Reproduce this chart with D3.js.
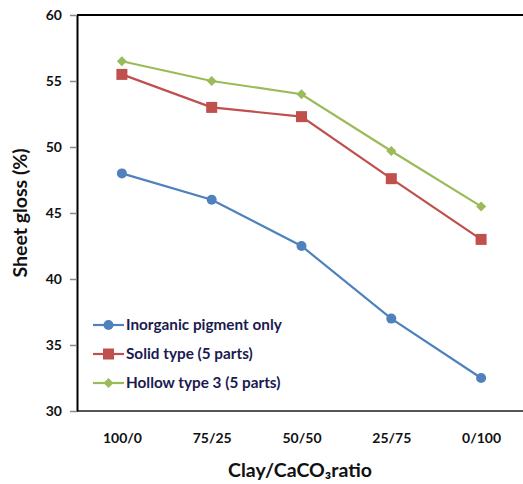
<!DOCTYPE html>
<html><head><meta charset="utf-8">
<script src="https://cdn.jsdelivr.net/npm/d3@7"></script>
<style>body{margin:0;background:#fff;}svg{display:block;font-family:Lato,"Open Sans",sans-serif;}</style>
</head><body><div id="c"></div>
<script>
const categories = ["100/0","75/25","50/50","25/75","0/100"];
const inorganic = [48, 46, 42.5, 37, 32.5];
const solid = [55.5, 53, 52.3, 47.6, 43];
const hollow = [56.5, 55, 54, 49.7, 45.5];
const seriesNames = ["Inorganic pigment only","Solid type (5 parts)","Hollow type 3 (5 parts)"];
const yTicks = [30,35,40,45,50,55,60];

const W=523,H=484;
const m={l:77,t:15,r:-3,b:73};
const svg=d3.select("#c").append("svg").attr("width",W).attr("height",H);
const x=d3.scalePoint().domain(categories).range([m.l,W-m.r]).padding(0.5);
const y=d3.scaleLinear().domain([30,60]).range([H-m.b,m.t]);

// frame
svg.append("line").attr("x1",m.l).attr("x2",W).attr("y1",m.t).attr("y2",m.t).attr("stroke","#000").attr("stroke-width",2);
svg.append("line").attr("x1",m.l).attr("x2",W).attr("y1",H-m.b).attr("y2",H-m.b).attr("stroke","#555").attr("stroke-width",2);

const ya=svg.append("g").attr("transform",`translate(${m.l},0)`)
 .call(d3.axisLeft(y).tickValues(yTicks).tickSize(7).tickPadding(8).tickSizeOuter(0));
ya.select(".domain").attr("stroke","#000").attr("stroke-width",2);
ya.selectAll(".tick line").attr("stroke","#888").attr("stroke-width",1.5);
ya.selectAll("text").attr("font-size",14).attr("font-weight","bold").attr("fill","#111").attr("font-family","Lato, sans-serif");

const xa=svg.append("g").attr("transform",`translate(0,${H-m.b})`)
 .call(d3.axisBottom(x).tickSize(0).tickPadding(22));
xa.select(".domain").remove();
xa.selectAll("text").attr("font-size",14).attr("font-weight","bold").attr("fill","#111").attr("font-family","Lato, sans-serif");

// titles
const xt=svg.append("text").attr("x",300).attr("y",477).attr("text-anchor","middle")
 .attr("font-size",19.5).attr("font-weight","bold").attr("fill","#111");
xt.append("tspan").text("Clay/CaCO");
xt.append("tspan").text("₃");
xt.append("tspan").text("ratio");
svg.append("text").attr("transform","translate(27,213) rotate(-90)").attr("text-anchor","middle")
 .attr("font-size",19.5).attr("font-weight","bold").attr("fill","#111").text("Sheet gloss (%)");

const colors=["#4F81BD","#C0504D","#9BBB59"];
const data=[inorganic,solid,hollow];
const line=d3.line().x((d,i)=>x(categories[i])).y(d=>y(d));
function marker(g,k,cx,cy){
  if(k===0) g.append("circle").attr("cx",cx).attr("cy",cy).attr("r",5).attr("fill",colors[0]);
  else if(k===1) g.append("rect").attr("x",cx-5.5).attr("y",cy-5.5).attr("width",11).attr("height",11).attr("fill",colors[1]);
  else g.append("path").attr("d",`M${cx},${cy-5}L${cx+5},${cy}L${cx},${cy+5}L${cx-5},${cy}Z`).attr("fill",colors[2]);
}
data.forEach((s,k)=>{
  const g=svg.append("g");
  g.append("path").datum(s).attr("d",line).attr("fill","none").attr("stroke",colors[k]).attr("stroke-width",2.2);
  s.forEach((v,i)=>marker(g,k,x(categories[i]),y(v)));
});

// legend
const ly=[325,354,383];
seriesNames.forEach((n,k)=>{
  const g=svg.append("g");
  g.append("line").attr("x1",93).attr("x2",124).attr("y1",ly[k]).attr("y2",ly[k]).attr("stroke",colors[k]).attr("stroke-width",2.2);
  marker(g,k,108.5,ly[k]);
  g.append("text").attr("x",126).attr("y",ly[k]+5).attr("font-size",15.3).attr("font-weight","bold").attr("fill","#1a1a50").text(n);
});
</script></body></html>
